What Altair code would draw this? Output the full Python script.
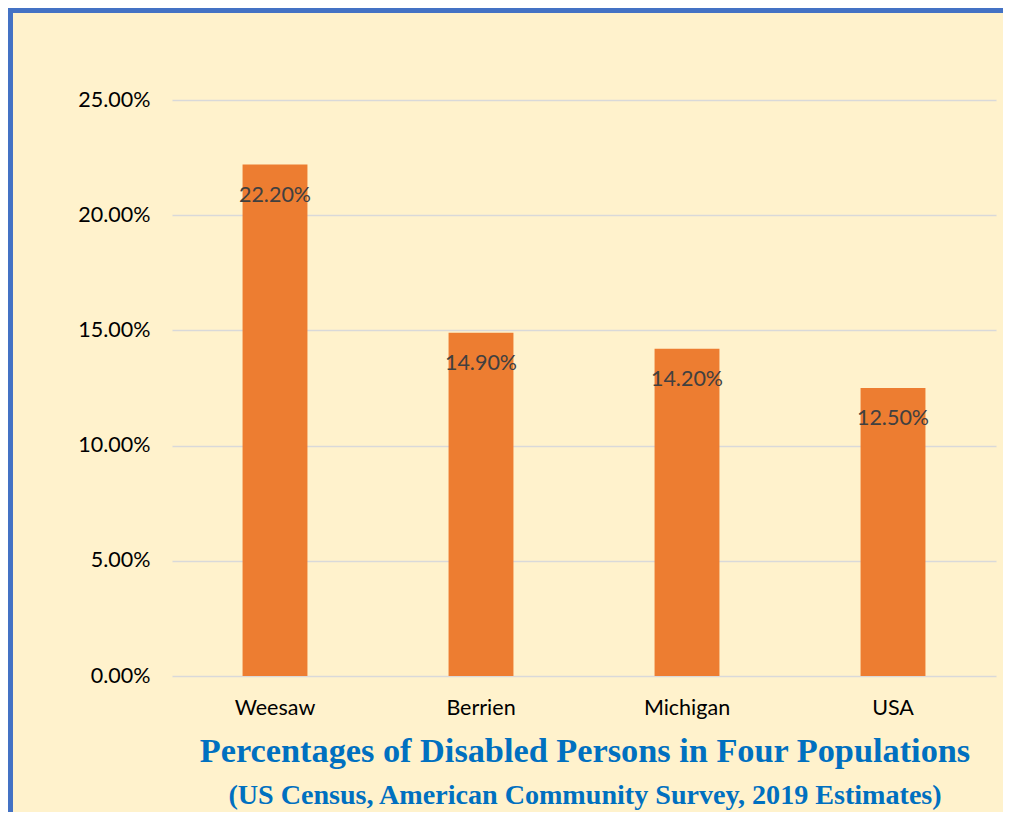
import altair as alt
import pandas as pd

places = ["Weesaw", "Berrien", "Michigan", "USA"]
disabled_share = [0.222, 0.149, 0.142, 0.125]
y_ticks = [0.0, 0.05, 0.10, 0.15, 0.20, 0.25]
title_lines = [
    "Percentages of Disabled Persons in Four Populations",
    "(US Census, American Community Survey, 2019 Estimates)",
]

df = pd.DataFrame({"place": places, "share": disabled_share})

W, H = 824, 576
FS = 21.5

x_enc = alt.X("place:N", sort=places, title=None,
              scale=alt.Scale(paddingInner=0.685, paddingOuter=0.3425),
              axis=alt.Axis(labelAngle=0, ticks=False, domain=False, grid=False,
                            labelFont="Lato", labelFontSize=FS, labelColor="#000000",
                            labelPadding=21))
y_enc = alt.Y("share:Q", title=None,
              scale=alt.Scale(domain=[0, 0.25], nice=False),
              axis=alt.Axis(values=y_ticks, format=".2%", ticks=False, domain=False,
                            grid=True, gridColor="#D9D9D9", gridWidth=1.5,
                            labelFont="Lato", labelFontSize=FS, labelColor="#000000",
                            labelPadding=22))

base = alt.Chart(df)

bars = base.mark_bar(color="#ED7D31").encode(x=x_enc, y=y_enc)

labels = base.mark_text(baseline="top", dy=20, font="Lato", fontSize=FS,
                        color="#404040").encode(
    x=alt.X("place:N", sort=places),
    y=alt.Y("share:Q"),
    text=alt.Text("share:Q", format=".2%"),
)

frame = alt.Chart(alt.Data(values=[{"a": 1}])).mark_rect(
    fill="#FFF2CC", fillOpacity=0, stroke="#4472C4", strokeWidth=5
).encode(
    x=alt.value(-161.5), x2=alt.value(W + 40),
    y=alt.value(-89.5), y2=alt.value(H + 300),
)

title1 = alt.Chart(alt.Data(values=[{"t": title_lines[0]}])).mark_text(
    font="Liberation Serif", fontSize=34.3, fontWeight="bold", color="#0070C0",
    align="center", baseline="middle"
).encode(x=alt.value(W / 2 + 1), y=alt.value(H + 76), text="t:N")

title2 = alt.Chart(alt.Data(values=[{"t": title_lines[1]}])).mark_text(
    font="Liberation Serif", fontSize=28.1, fontWeight="bold", color="#0070C0",
    align="center", baseline="middle"
).encode(x=alt.value(W / 2 + 1), y=alt.value(H + 120), text="t:N")

chart = alt.layer(bars, labels, frame, title1, title2).properties(
    width=W, height=H,
    padding={"left": 164, "top": 92, "right": 7, "bottom": 136},
    autosize=alt.AutoSizeParams(type="none"),
    background="#FFF2CC",
).configure_view(stroke=None)

chart.save("out.html", embed_options={"renderer": "svg", "actions": False})
